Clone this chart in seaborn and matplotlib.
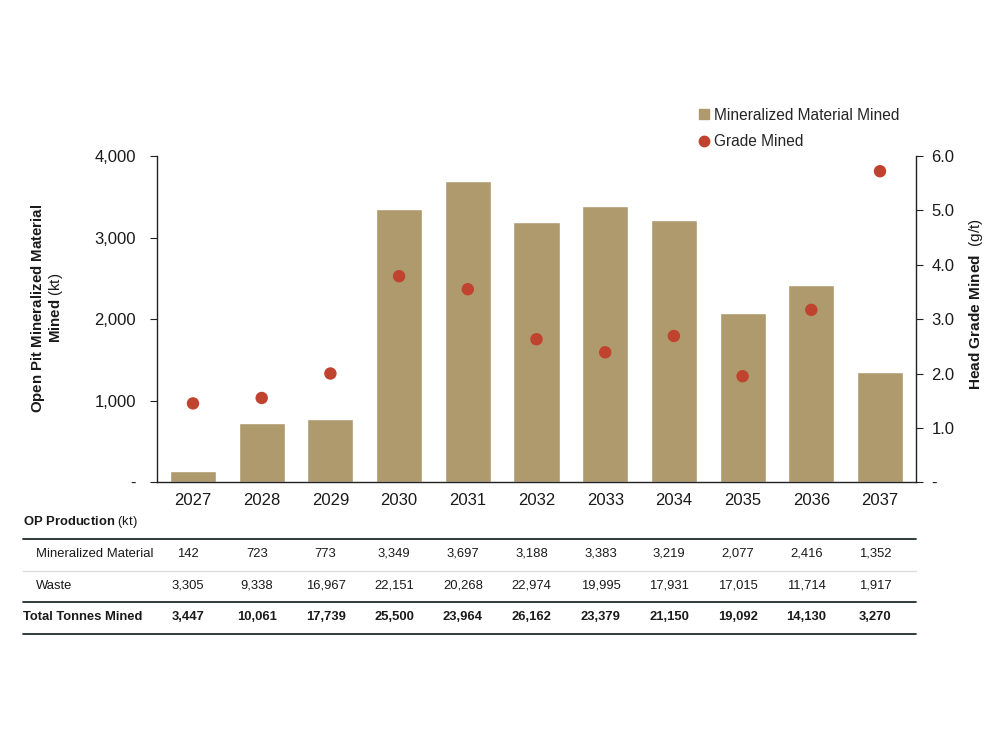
import numpy as np
import pandas as pd
import matplotlib
matplotlib.use("Agg")
import matplotlib.pyplot as plt
import matplotlib.transforms as mtransforms
from matplotlib.ticker import FuncFormatter, MultipleLocator
from matplotlib.lines import Line2D
import seaborn as sns

years = ["2027", "2028", "2029", "2030", "2031", "2032", "2033", "2034", "2035", "2036", "2037"]
mineralized = [142, 723, 773, 3349, 3697, 3188, 3383, 3219, 2077, 2416, 1352]
waste = [3305, 9338, 16967, 22151, 20268, 22974, 19995, 17931, 17015, 11714, 1917]
total = [3447, 10061, 17739, 25500, 23964, 26162, 23379, 21150, 19092, 14130, 3270]
grade = [1.45, 1.55, 2.0, 3.79, 3.55, 2.63, 2.39, 2.69, 1.95, 3.17, 5.72]

BAR = "#AF9A6E"
DOT = "#C0432F"

sns.set_theme(style="white")
plt.rcParams["font.family"] = ["Liberation Sans", "DejaVu Sans"]
plt.rcParams["mathtext.fontset"] = "custom"
plt.rcParams["mathtext.rm"] = "Liberation Sans"
plt.rcParams["mathtext.bf"] = "Liberation Sans:bold"
plt.rcParams["mathtext.it"] = "Liberation Sans:italic"

fig = plt.figure(figsize=(10, 7.5), dpi=100)
ax = fig.add_axes([0.157, 0.357, 0.759, 0.435])

df = pd.DataFrame({"year": years, "mineralized": mineralized, "grade": grade})
sns.barplot(data=df, x="year", y="mineralized", color=BAR, saturation=1,
            width=0.67, ax=ax)
ax.set_xlim(-0.524, len(years) - 1 + 0.524)
ax.set_ylim(0, 4000)
ax.yaxis.set_major_locator(MultipleLocator(1000))
ax.yaxis.set_major_formatter(FuncFormatter(lambda v, p: "-" if v == 0 else f"{v:,.0f}"))
ax.set_xlabel("")
ax.set_ylabel(r"$\mathbf{Open\ Pit\ Mineralized\ Material}$" + "\n" + r"$\mathbf{Mined}$ (kt)",
              fontsize=10.8, color="#1a1a1a", linespacing=1.0)
ax.yaxis.set_label_coords(-0.121, 0.534)
for s in ["top", "right"]:
    ax.spines[s].set_visible(False)
for s in ["left", "bottom"]:
    ax.spines[s].set_color("#222222")
    ax.spines[s].set_linewidth(1.0)
ax.tick_params(axis="y", which="major", left=True, length=5, width=0.8, color="#222222",
               labelsize=12, labelcolor="#1a1a1a", pad=10)
ax.tick_params(axis="x", bottom=False, labelsize=12, labelcolor="#1a1a1a", pad=2)

ax2 = ax.twinx()
sns.scatterplot(x=np.arange(len(years)), y=grade, color=DOT, s=80, edgecolor="none",
                ax=ax2, zorder=5)
ax2.set_ylim(0, 6.0)
ax2.yaxis.set_major_locator(MultipleLocator(1.0))
ax2.yaxis.set_major_formatter(FuncFormatter(lambda v, p: "-" if v == 0 else f"{v:.1f}"))
ax2.set_ylabel(r"$\mathbf{Head\ Grade\ Mined}$  (g/t)", fontsize=11.1, color="#1a1a1a")
ax2.yaxis.set_label_coords(1.0672, 0.546)
for s in ["top", "left", "bottom"]:
    ax2.spines[s].set_visible(False)
ax2.spines["right"].set_color("#222222")
ax2.spines["right"].set_linewidth(1.0)
ax2.tick_params(axis="y", right=True, length=5, width=0.8, color="#222222",
                labelsize=12, labelcolor="#1a1a1a", pad=6)
ax2.grid(False)
ax.grid(False)

handles = [
    Line2D([], [], marker="s", linestyle="none", color=BAR, markersize=7.5),
    Line2D([], [], marker="o", linestyle="none", color=DOT, markersize=7.5),
]
fig.legend(handles, ["Mineralized Material Mined", "Grade Mined"], loc="upper left",
           bbox_to_anchor=(0.685, 0.875), frameon=False, fontsize=11.2,
           handlelength=0.6, handletextpad=0.35, labelspacing=0.75)

# Table beneath the chart
trans = mtransforms.blended_transform_factory(ax.transData, fig.transFigure)
def fy(px):
    return 1 - px / 750.0

FS = 9.4
fig.text(0.023, fy(522), r"$\mathbf{OP\ Production}$ (kt)", fontsize=FS,
         va="center", ha="left", color="#1a1a1a")
rows = [
    ("Mineralized Material", mineralized, 554, "normal", 0.036),
    ("Waste", waste, 586, "normal", 0.036),
    ("Total Tonnes Mined", total, 617, "bold", 0.023),
]
for label, vals, ypx, weight, xl in rows:
    fig.text(xl, fy(ypx), label, fontsize=FS, fontweight=weight, va="center",
             ha="left", color="#1a1a1a")
    for i, v in enumerate(vals):
        fig.text(i - 0.07, fy(ypx), f"{v:,}", transform=trans, fontsize=FS,
                 fontweight=weight, va="center", ha="center", color="#1a1a1a")

for ypx, col, lw in [(539, "#1f2b2b", 1.3), (571, "#dddddd", 1.0), (602, "#1f2b2b", 1.3), (634, "#1f2b2b", 1.3)]:
    fig.add_artist(Line2D([0.023, 0.916], [fy(ypx), fy(ypx)], color=col, lw=lw,
                          transform=fig.transFigure))

fig.savefig("out.png", dpi=100, facecolor="white")
